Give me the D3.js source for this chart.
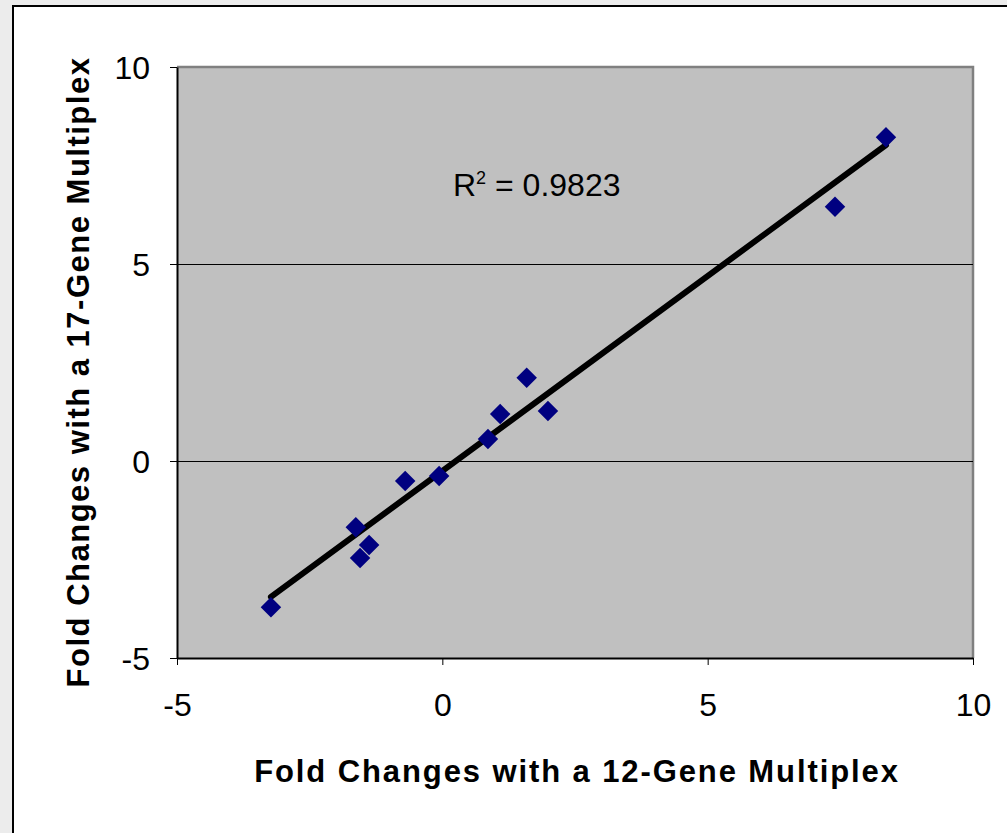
<!DOCTYPE html>
<html><head><meta charset="utf-8">
<script src="https://cdn.jsdelivr.net/npm/d3@7"></script>
<style>
html,body{margin:0;padding:0;background:#ececec;overflow:hidden}
svg{display:block}
text{font-family:"Liberation Sans",Arial,sans-serif}
</style></head>
<body>
<svg id="c" width="1007" height="833"></svg>
<script>
// Data
const xValues = [-3.23, -1.63, -1.55, -1.38, -0.70, -0.06, 0.86, 1.09, 1.59, 1.99, 7.40, 8.36];
const yValues = [-3.71, -1.68, -2.46, -2.13, -0.51, -0.38, 0.56, 1.19, 2.11, 1.27, 6.45, 8.22];
const trendX = [-3.23, 8.36];
const trendY = [-3.45, 8.02];
const xTicks = [-5, 0, 5, 10];
const yTicks = [-5, 0, 5, 10];
const rSquaredLabel = "0.9823";
const xTitle = "Fold Changes with a 12-Gene Multiplex";
const yTitle = "Fold Changes with a 17-Gene Multiplex";

const svg = d3.select("#c");
// outer white panel
svg.append("rect").attr("x",13).attr("y",6).attr("width",1100).attr("height",900)
  .attr("fill","#fff").attr("stroke","#000").attr("stroke-width",2);

const L=177, R=973, T=67, B=658;
const x = d3.scaleLinear().domain([-5,10]).range([L,R]);
const y = d3.scaleLinear().domain([-5,10]).range([B,T]);

// plot area
svg.append("rect").attr("x",L).attr("y",T).attr("width",R-L).attr("height",B-T)
  .attr("fill","#c0c0c0");
// top/right gray border
svg.append("path").attr("d",`M${L},${T}H${R}V${B}`).attr("fill","none")
  .attr("stroke","#808080").attr("stroke-width",2.5);

// gridlines
svg.append("g").selectAll("line").data(yTicks.filter(d=>d>-5&&d<10)).join("line")
  .attr("x1",L).attr("x2",R).attr("y1",d=>Math.round(y(d))+0.5).attr("y2",d=>Math.round(y(d))+0.5)
  .attr("stroke","#000").attr("stroke-width",1);

// axes
const fmt = d => String(d);
const xAxis = d3.axisBottom(x).tickValues(xTicks).tickFormat(fmt).tickSize(7).tickPadding(28).tickSizeOuter(0);
const yAxis = d3.axisLeft(y).tickValues(yTicks).tickFormat(fmt).tickSize(7).tickPadding(20).tickSizeOuter(0);
const gx = svg.append("g").attr("transform",`translate(0,${B})`).call(xAxis);
const gy = svg.append("g").attr("transform",`translate(${L},0)`).call(yAxis);
[gx,gy].forEach(g=>{
  g.attr("font-size",32).attr("font-family","'Liberation Sans',Arial,sans-serif");
  g.select(".domain").attr("stroke","#000").attr("stroke-width",2);
  g.selectAll(".tick line").attr("stroke","#000").attr("stroke-width",1);
  g.selectAll(".tick text").attr("font-size",32).attr("fill","#000");
});
gy.selectAll(".tick text").attr("dy","0.35em");

// trendline
svg.append("path").datum(trendX.map((d,i)=>[d,trendY[i]]))
  .attr("d",d3.line().x(d=>x(d[0])).y(d=>y(d[1])))
  .attr("stroke","#000").attr("stroke-width",6).attr("stroke-linecap","round").attr("fill","none");

// points (diamonds)
svg.append("g").selectAll("path").data(xValues.map((d,i)=>[d,yValues[i]])).join("path")
  .attr("d",d3.symbol().type(d3.symbolSquare).size(210))
  .attr("transform",d=>`translate(${x(d[0])},${y(d[1])}) rotate(45)`)
  .attr("fill","#000080");

// R2 label
const t = svg.append("text").attr("x",453).attr("y",196).attr("font-size",32).attr("fill","#000");
t.append("tspan").text("R");
t.append("tspan").attr("font-size",18).attr("dy",-12).text("2");
t.append("tspan").attr("dy",12).text(" = "+rSquaredLabel);

// axis titles
svg.append("text").attr("x",577).attr("y",782).attr("text-anchor","middle")
  .attr("font-size",31).attr("letter-spacing",1.9).attr("font-weight","bold").attr("fill","#000").text(xTitle);
svg.append("text").attr("transform","translate(89,372) rotate(-90)").attr("text-anchor","middle")
  .attr("font-size",31).attr("letter-spacing",1.5).attr("font-weight","bold").attr("fill","#000").text(yTitle);
</script>
</body></html>
